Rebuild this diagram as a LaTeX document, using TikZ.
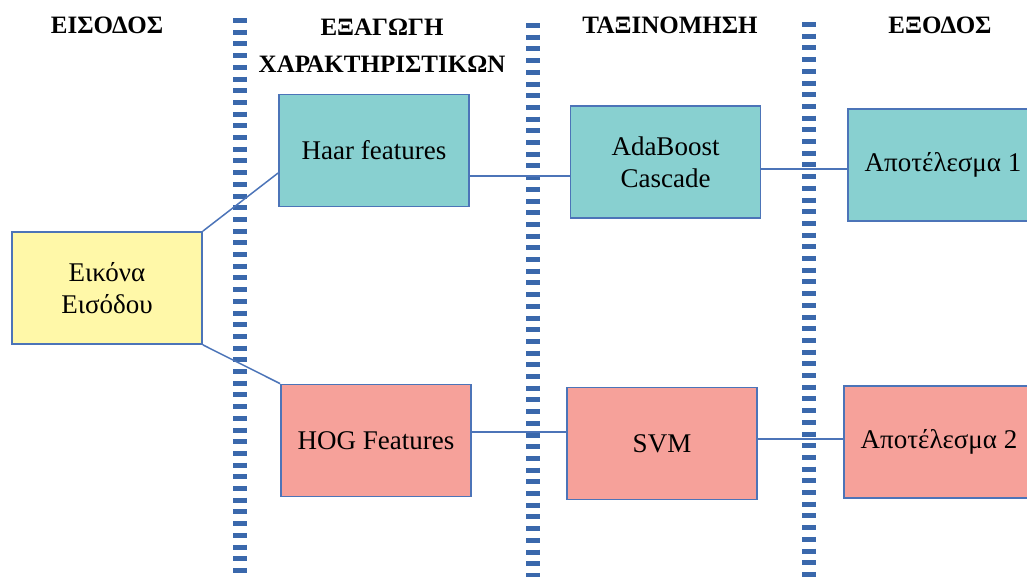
\documentclass[tikz,border=0pt]{standalone}
\usepackage{fontspec}
\setmainfont{Liberation Serif}
\usepackage{tikz}
\usetikzlibrary{calc}
\definecolor{edgeblue}{RGB}{76,116,184}
\definecolor{sepblue}{RGB}{58,104,172}
\definecolor{tealfill}{RGB}{136,208,208}
\definecolor{salmonfill}{RGB}{246,161,154}
\definecolor{yellowfill}{RGB}{255,248,168}
\tikzset{
  stagebox/.style={draw=edgeblue, line width=1.8pt, minimum width=190pt, minimum height=112pt,
    align=center, inner sep=2pt, font=\fontsize{27}{32}\selectfont},
  haarbox/.style={stagebox, fill=tealfill},
  hogbox/.style={stagebox, fill=salmonfill},
  inbox/.style={stagebox, fill=yellowfill},
  stagehead/.style={inner sep=0pt, align=center, font=\bfseries\fontsize{25}{37}\selectfont},
  sepline/.style={draw=sepblue, line width=14pt, dash pattern=on 5pt off 6.7pt},
  link/.style={draw=edgeblue, line width=1.5pt}
}

\begin{document}
\begin{tikzpicture}[x=1pt, y=-1pt]
\useasboundingbox (0,0) rectangle (1027,576);
\clip (0,0) rectangle (1027,576);

%headings
\node[stagehead] (hin) at (107,25.5) {ΕΙΣΟΔΟΣ};
\node[stagehead] (hfeat) at (382,46) {ΕΞΑΓΩΓΗ\\ΧΑΡΑΚΤΗΡΙΣΤΙΚΩΝ};
\node[stagehead] (hcls) at (670,25) {ΤΑΞΙΝΟΜΗΣΗ};
\node[stagehead] (hout) at (940,25) {ΕΞΟΔΟΣ};

%separators
\draw[sepline] (240,18) -- (240,580);
\draw[sepline] (533,23) -- (533,580);
\draw[sepline] (809,22) -- (809,580);

%boxes
\node[inbox] (img) at (107,288) {Εικόνα\\Εισόδου};
\node[haarbox] (haar) at (374,150.5) {Haar features};
\node[hogbox] (hog) at (376,440.5) {HOG Features};
\node[haarbox] (ada) at (665.5,162) {AdaBoost\\Cascade};
\node[hogbox] (svm) at (662,443.5) {SVM};
\node[haarbox] (res1) at (943,165) {Αποτέλεσμα 1};
\node[hogbox] (res2) at (939,442) {Αποτέλεσμα 2};

%links
\draw[link] (img.north east) -- ([yshift=-22.5pt]haar.west);
\draw[link] (img.south east) -- (hog.north west);
\draw[link] ([yshift=-25.5pt]haar.east) -- ([yshift=-25.5pt]haar.east -| ada.west);
\draw[link] ([yshift=-7pt]ada.east) -- ([yshift=-7pt]ada.east -| res1.west);
\draw[link] ([yshift=8.5pt]hog.east) -- ([yshift=8.5pt]hog.east -| svm.west);
\draw[link] ([yshift=4.5pt]svm.east) -- ([yshift=4.5pt]svm.east -| res2.west);

\end{tikzpicture}
\end{document}
